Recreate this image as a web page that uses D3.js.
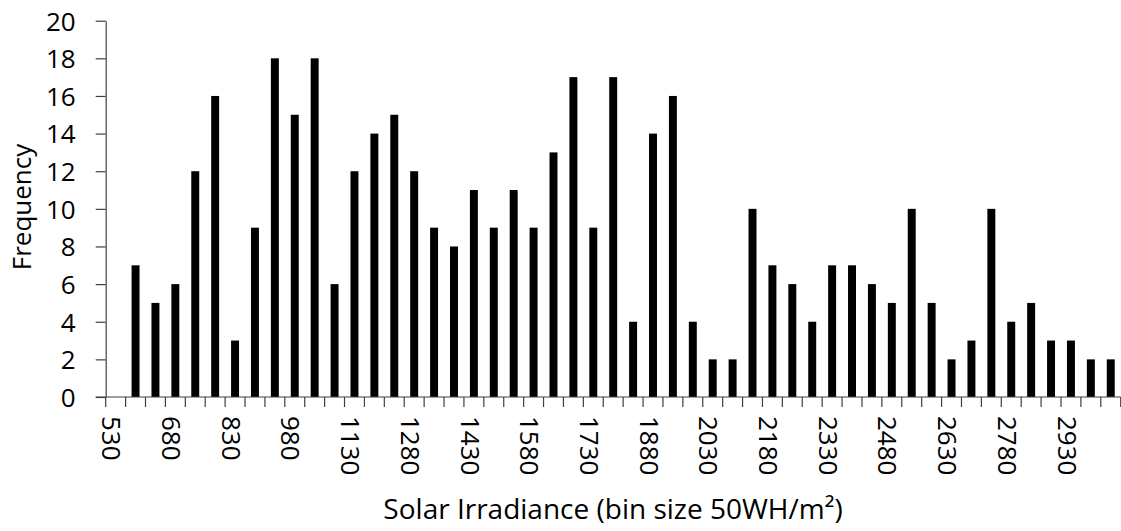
<!DOCTYPE html>
<html>
<head>
<meta charset="utf-8">
<script src="https://cdn.jsdelivr.net/npm/d3@7"></script>
<style>
  html, body { margin: 0; padding: 0; background: #fff; }
  svg { display: block; }
  text { font-family: "Open Sans", "Liberation Sans", sans-serif; fill: #000; }
</style>
</head>
<body>
<svg id="chart" width="1121" height="531"></svg>
<script>
// Bin start values (WH/m²), bin size 50
const binStarts = [530,580,630,680,730,780,830,880,930,980,1030,1080,1130,1180,1230,1280,1330,1380,1430,1480,1530,1580,1630,1680,1730,1780,1830,1880,1930,1980,2030,2080,2130,2180,2230,2280,2330,2380,2430,2480,2530,2580,2630,2680,2730,2780,2830,2880,2930,2980,3030];
const frequency = [0,7,5,6,12,16,3,9,18,15,18,6,12,14,15,12,9,8,11,9,11,9,13,17,9,17,4,14,16,4,2,2,10,7,6,4,7,7,6,5,10,5,2,3,10,4,5,3,3,2,2];
const xTickLabels = ["530","680","830","980","1130","1280","1430","1580","1730","1880","2030","2180","2330","2480","2630","2780","2930"];
const yTickValues = [0,2,4,6,8,10,12,14,16,18,20];

const svg = d3.select("#chart");
const plotLeft = 105.7, plotRight = 1120.7, plotTop = 20.7, plotBottom = 397;
const axisColor = "#404040";

const x = d3.scaleBand()
  .domain(binStarts.map(String))
  .range([plotLeft, plotRight])
  .paddingInner(0.6)
  .paddingOuter(0.3);

const y = d3.scaleLinear().domain([0, 20]).range([plotBottom, plotTop]);

// Bars
svg.append("g")
  .selectAll("rect")
  .data(binStarts)
  .join("rect")
  .attr("x", (d) => x(String(d)))
  .attr("width", x.bandwidth())
  .attr("y", (d, i) => y(frequency[i]))
  .attr("height", (d, i) => y(0) - y(frequency[i]))
  .attr("fill", "#000");

// Y axis
const yAxis = svg.append("g")
  .attr("transform", `translate(${plotLeft},0)`)
  .call(d3.axisLeft(y).tickValues(yTickValues).tickSize(10).tickPadding(20).tickSizeOuter(0));
yAxis.select(".domain").attr("stroke", axisColor).attr("stroke-width", 1.2);
yAxis.selectAll(".tick line").attr("stroke", axisColor).attr("stroke-width", 1.2);
yAxis.selectAll(".tick text").style("font-size", "26px").attr("fill", "#000").attr("dy", "0.36em");

// X axis: line + tick marks at band boundaries
const xg = svg.append("g");
xg.append("line")
  .attr("x1", plotLeft - 10).attr("x2", plotRight)
  .attr("y1", plotBottom).attr("y2", plotBottom)
  .attr("stroke", axisColor).attr("stroke-width", 1.2);
const step = (plotRight - plotLeft) / binStarts.length;
const boundaries = d3.range(binStarts.length + 1).map(i => plotLeft + i * step);
xg.selectAll("line.tk")
  .data(boundaries)
  .join("line")
  .attr("class", "tk")
  .attr("x1", d => d).attr("x2", d => d)
  .attr("y1", plotBottom).attr("y2", plotBottom + 10)
  .attr("stroke", axisColor).attr("stroke-width", 1.2);

// X tick labels (rotated)
xg.selectAll("text.xl")
  .data(xTickLabels)
  .join("text")
  .attr("class", "xl")
  .attr("transform", d => `translate(${x(d) + x.bandwidth() / 2 - 4},${plotBottom + 19}) rotate(90)`)
  .attr("dy", "0.36em")
  .attr("text-anchor", "start")
  .style("font-size", "26px")
  .text(d => d);

// Axis titles
svg.append("text")
  .attr("x", 613).attr("y", 519)
  .attr("text-anchor", "middle")
  .style("font-size", "28px")
  .text("Solar Irradiance (bin size 50WH/m²)");

svg.append("text")
  .attr("transform", "translate(31,207) rotate(-90)")
  .attr("text-anchor", "middle")
  .style("font-size", "26px")
  .text("Frequency");
</script>
</body>
</html>
